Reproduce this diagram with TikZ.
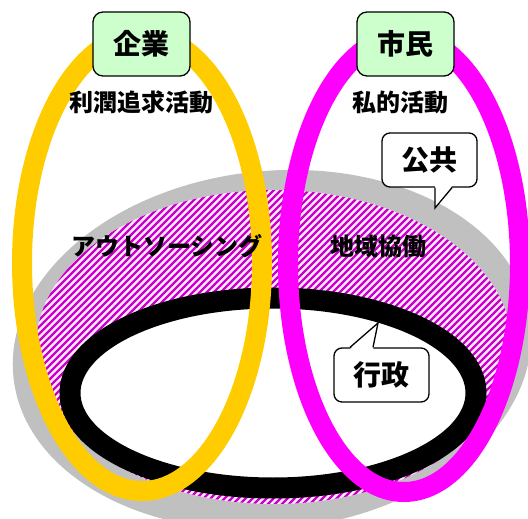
\documentclass[tikz,border=0pt]{standalone}
\usepackage{fontspec}
\usetikzlibrary{calc}
\setmainfont{Noto Sans CJK JP}
\definecolor{ringorange}{HTML}{FFCC00}
\definecolor{ringmagenta}{HTML}{FF00FF}
\definecolor{shadegray}{HTML}{C0C0C0}
\definecolor{boxgreen}{HTML}{CCFFCC}
\definecolor{hatchpurple}{HTML}{C800C8}
\definecolor{hatchbg}{HTML}{FFEBFF}
\begin{document}
\begin{tikzpicture}[x=1pt,y=-1pt,
  ring/.style={line width=20pt},
  smalltext/.style={font=\fontsize{24}{28}\selectfont\bfseries, inner sep=0pt},
  actorbox/.style={draw=black, line width=1.3pt, fill=boxgreen, rounded corners=10pt,
     minimum width=97pt, minimum height=64pt, font=\fontsize{28}{32}\selectfont\bfseries, inner sep=0pt},
  calloutbox/.style={draw=black, line width=1.3pt, fill=white, rounded corners=8pt,
     minimum width=95pt, minimum height=54pt, font=\fontsize{28}{32}\selectfont\bfseries, inner sep=0pt},
  hatchline/.style={hatchpurple, line width=2.3pt}
]
\useasboundingbox (0,0) rectangle (528,519);
\clip (0,0) rectangle (528,519);
% public sphere (gray)
\fill[shadegray, rotate around={6:(272,350)}] (272,350) ellipse [x radius=260, y radius=179];
% hatched cooperation area
\begin{scope}
  \clip (274,347) ellipse [x radius=238, y radius=157];
  \fill[hatchbg] (0,0) rectangle (528,519);
  \foreach \i in {-300,-293,...,505} \draw[hatchline] (\i,519) -- ++(540,-540);
\end{scope}
% administration ring
\draw[line width=21pt, black, fill=white] (273,393) ellipse [x radius=203, y radius=95];
% enterprise and citizen rings
\draw[ring, ringorange] (142,263) ellipse [x radius=120, y radius=228];
\draw[ring, ringmagenta] (404,264) ellipse [x radius=116, y radius=228];
% labels
\node[smalltext] (profit) at (141.5,102) {利潤追求活動};
\node[smalltext] (private) at (400.5,102) {私的活動};
\node[smalltext] (outsourcing) at (167,246) {アウトソーシング};
\node[smalltext] (coop) at (378.5,246) {地域協働};
% actor boxes
\node[actorbox] (firm) at (141.5,44) {企業};
\node[actorbox] (citizen) at (405.5,44) {市民};
% callouts
\node[calloutbox] (public) at (429.5,160) {公共};
\coordinate (publictip) at (435,208);
\fill[white] (435,186) -- (publictip) -- (452,186) -- cycle;
\draw[line width=1.3pt, line join=miter] ($(public.south)+(5.5,0)$) -- (publictip) -- ($(public.south)+(22.5,0)$);
\node[calloutbox] (admin) at (381.5,375) {行政};
\coordinate (admintip) at (378,323);
\fill[white] (350,349) -- (admintip) -- (373,349) -- cycle;
\draw[line width=1.3pt, line join=miter] ($(admin.north)+(-31.5,0)$) -- (admintip) -- ($(admin.north)+(-8.5,0)$);
\end{tikzpicture}
\end{document}
